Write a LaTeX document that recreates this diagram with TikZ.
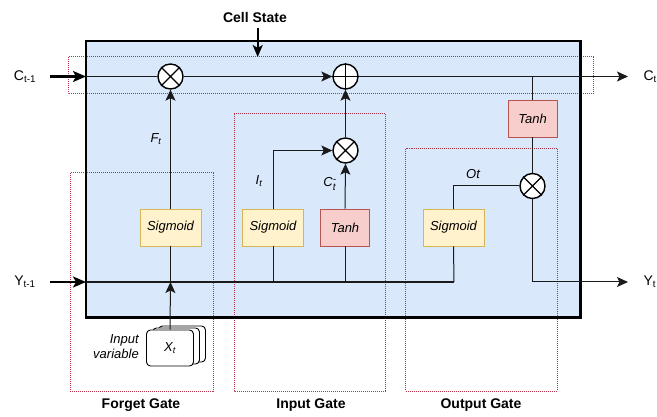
\documentclass[tikz,border=0pt]{standalone}
\usepackage{fontspec}
\setmainfont{Liberation Sans}
\usetikzlibrary{arrows.meta}
\definecolor{cellblue}{HTML}{DAE8FC}
\definecolor{sigfill}{HTML}{FFF2CC}
\definecolor{sigdraw}{HTML}{D6B656}
\definecolor{tanfill}{HTML}{F8CECC}
\definecolor{tandraw}{HTML}{B85450}
\definecolor{gatered}{RGB}{185,50,75}
\definecolor{ink}{HTML}{1A1A1A}
\newcommand\smallbox[1]{\hbox{\fontsize{10}{10}\selectfont #1}}
\tikzset{
  every node/.style={font=\fontsize{13}{15}\selectfont},
  sigbox/.style={draw=sigdraw,fill=sigfill,line width=0.8pt,minimum width=61pt,minimum height=37pt,inner sep=0pt,font=\fontsize{13}{15}\selectfont\itshape},
  tanbox/.style={draw=tandraw,fill=tanfill,line width=0.8pt,minimum width=49pt,minimum height=37pt,inner sep=0pt,font=\fontsize{13}{15}\selectfont\itshape},
  opc/.style={circle,draw=black,fill=white,line width=1.4pt,minimum size=25pt,inner sep=0pt},
  gatebox/.style={draw=gatered,line width=1pt,dash pattern=on 1pt off 1pt},
  wire/.style={draw=ink,line width=1pt},
  arr/.style={wire,-{Stealth[length=11pt,width=10pt,inset=2.5pt]}},
  bigarr/.style={draw=black,line width=2.2pt,-{Stealth[length=13pt,width=11pt,inset=3pt]}},
  gatelabel/.style={font=\fontsize{14}{16}\selectfont\bfseries},
  io/.style={font=\fontsize{14}{16}\selectfont},
  stack/.style={draw=black,fill=white,line width=0.9pt,rounded corners=4pt,minimum width=47pt,minimum height=36pt,inner sep=0pt}
}
\begin{document}
\begin{tikzpicture}[x=1pt,y=-1pt]
\useasboundingbox (0,0) rectangle (657,417);
\fill[white] (0,0) rectangle (657,417);
% main cell
\fill[cellblue] (86,41) rectangle (580.5,317.5);
% gate regions
\draw[gatebox] (68,57) rectangle (593,94);
\draw[gatebox] (70,173) rectangle (213,391);
\draw[gatebox] (234,114) rectangle (385.5,391);
\draw[gatebox] (405.5,149) rectangle (557,391);
\draw[line width=2.5pt] (86,41) rectangle (580.5,317.5);

% operators
\node[opc] (fm) at (170.5,76.5) {};
\node[opc] (pl) at (345.5,76.5) {};
\node[opc] (im) at (345.5,150.5) {};
\node[opc] (om) at (532.5,186) {};
\foreach \n in {fm,im,om}{
  \draw[line width=1.4pt] (\n.45) -- (\n.225) (\n.135) -- (\n.315);
}
\draw[line width=1.4pt] (pl.north) -- (pl.south) (pl.west) -- (pl.east);

% activation boxes
\node[sigbox] (fs) at (170.5,227.5) {Sigmoid};
\node[sigbox] (is) at (273,227.5) {Sigmoid};
\node[tanbox] (it) at (345,227.5) {Tanh};
\node[sigbox] (os) at (453.5,227.5) {Sigmoid};
\node[tanbox] (ot) at (532.5,118.5) {Tanh};

% input stack
\node[stack] (x3) at (182,344) {};
\node[stack] (x2) at (176,346) {};
\node[stack] (xt) at (170,348) {\itshape X\textsubscript{t}};
\node[align=right,font=\fontsize{13}{15}\selectfont\itshape] (iv) at (116,347) {Input\\variable};

% texts
\node[gatelabel] (cs) at (255,17) {Cell State};
\node[io] (cin) at (25,77) {C\textsubscript{t-1}};
\node[io] (yin) at (25,282) {Y\textsubscript{t-1}};
\node[io,anchor=west] (cout) at (640,77) {C\textsubscript{t}};
\node[io,anchor=west] (yout) at (640,282) {Y\textsubscript{t}};
\node[gatelabel] (fg) at (141,405) {Forget Gate};
\node[gatelabel] (ig) at (311,405) {Input Gate};
\node[gatelabel] (og) at (481,405) {Output Gate};
\node (ft) at (156,139) {\itshape F\textsubscript{t}};
\node (itl) at (259,181) {\itshape I\textsubscript{t}};
\node[inner sep=0pt] (ctl) at (330,184) {\itshape C$^{\smallbox{-}}_{\smallbox{\itshape t}}$};
\node (otl) at (473,174) {\itshape Ot};

% coordinates
\coordinate (cstop) at (257.7,57);
\coordinate (cinE) at (50,76.5);
\coordinate (cbox) at (86,76.5);
\coordinate (coutE) at (628,76.5);
\coordinate (tap) at (532.5,76.5);
\coordinate (yinE) at (50,282);
\coordinate (ybox) at (86,282);
\coordinate (yend) at (454,282);
\coordinate (fy) at (170.5,282);
\coordinate (youtE) at (628,282);

% cell state line
\draw[draw=black,line width=2pt,-{Stealth[length=12pt,width=10pt,inset=3pt]}] (257.7,28) -- (cstop);
\draw[bigarr] (cinE) -- (cbox);
\draw[wire] (cbox) -- (fm);
\draw[arr] (fm) -- (pl);
\draw[arr] (pl) -- (coutE);

% hidden input line
\draw[bigarr] (yinE) -- (ybox);
\draw[draw=ink,line width=1.6pt] (ybox) -- (yend);

% forget gate
\draw[arr] (xt.north) -- (fy);
\draw[wire] (fy) -- (fs.south);
\draw[arr] (fs.north) -- (fm.south);

% input gate
\draw[wire] (is.south) -- (is.south |- ybox);
\draw[arr] (is.north) |- (im.west);
\draw[wire] (it.south) -- (it.south |- ybox);
\draw[arr] (it.north) -- (im.south);
\draw[arr] (im.north) -- (pl.south);

% output gate
\draw[wire] (os.south) -- (yend);
\draw[wire] (os.north) |- (om.west);
\draw[wire] (tap) -- (ot.north);
\draw[wire] (ot.south) -- (om.north);
\draw[arr] (om.south) |- (youtE);
\end{tikzpicture}
\end{document}
